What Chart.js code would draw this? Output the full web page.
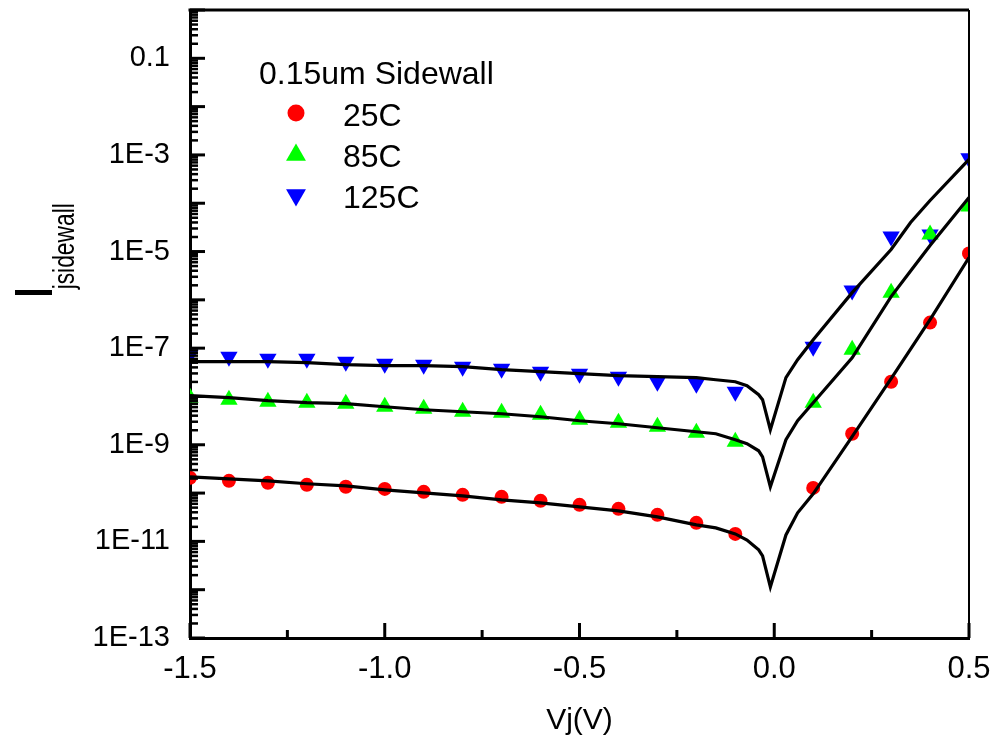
<!DOCTYPE html>
<html>
<head>
<meta charset="utf-8">
<script src="https://cdn.jsdelivr.net/npm/chart.js@4.4.0/dist/chart.umd.min.js"></script>
<style>
  html, body { margin: 0; padding: 0; background: #fff; }
</style>
</head>
<body>
<canvas id="grafico" width="991" height="744"></canvas>
<script>
// Tensões dos pontos medidos (V)
const vMedidos = [-1.5, -1.4, -1.3, -1.2, -1.1, -1.0, -0.9, -0.8, -0.7, -0.6, -0.5, -0.4, -0.3, -0.2, -0.1,
                  0.1, 0.2, 0.3, 0.4, 0.5];
const medido25 = [2.07e-10, 1.79e-10, 1.63e-10, 1.48e-10, 1.35e-10, 1.22e-10, 1.06e-10, 9.2e-11, 8.36e-11, 6.9e-11,
                  5.7e-11, 4.72e-11, 3.54e-11, 2.42e-11, 1.43e-11,
                  1.28e-10, 1.69e-9, 2.02e-8, 3.38e-7, 9.1e-6];
const medido85 = [9.4e-9, 8.57e-9, 7.79e-9, 7.42e-9, 7.08e-9, 6.13e-9, 5.57e-9, 4.83e-9, 4.6e-9, 4.19e-9,
                  3.3e-9, 2.86e-9, 2.36e-9, 1.77e-9, 1.15e-9,
                  7.42e-9, 9.3e-8, 1.41e-6, 2.25e-5, 8.6e-5];
const medido125 = [7.33e-8, 6.67e-8, 6.06e-8, 6.06e-8, 5.25e-8, 4.77e-8, 4.55e-8, 4.14e-8, 3.76e-8, 3.26e-8,
                   2.96e-8, 2.57e-8, 2.02e-8, 1.84e-8, 1.25e-8,
                   1.07e-7, 1.56e-6, 2.05e-5, 2.25e-5, 8.5e-4];

// Curvas do modelo (linhas pretas)
const vModelo = [-1.5, -1.4, -1.3, -1.2, -1.1, -1.0, -0.9, -0.8, -0.7, -0.6, -0.5, -0.4, -0.3, -0.2, -0.15,
                 -0.1, -0.07, -0.04, -0.03, -0.01, 0.03, 0.06, 0.1, 0.2, 0.3, 0.35, 0.4, 0.5];
const modelo25 = [2.17e-10, 1.97e-10, 1.79e-10, 1.56e-10, 1.41e-10, 1.17e-10, 1.01e-10, 8.77e-11, 7.24e-11, 6.28e-11,
                  5.19e-11, 4.29e-11, 3.22e-11, 2.2e-11, 1.9e-11, 1.43e-11, 1.07e-11, 6.67e-12, 5.0e-12, 1.14e-12,
                  1.36e-11, 3.9e-11, 9.64e-11, 1.47e-9, 2.33e-8, 9.5e-8, 3.9e-7, 7.5e-6];
const modelo85 = [1.04e-8, 9.42e-9, 8.17e-9, 7.42e-9, 7.08e-9, 6.13e-9, 5.31e-9, 4.83e-9, 4.39e-9, 3.8e-9,
                  3.14e-9, 2.72e-9, 2.25e-9, 1.86e-9, 1.69e-9, 1.27e-9, 1.05e-9, 7.5e-10, 5.64e-10, 1.35e-10,
                  1.27e-9, 3.14e-9, 7.42e-9, 6.3e-8, 1.17e-6, 3.94e-6, 1.33e-5, 1.32e-4];
const modelo125 = [5.25e-8, 5.25e-8, 5.25e-8, 5.0e-8, 4.55e-8, 4.34e-8, 4.34e-8, 4.14e-8, 3.58e-8, 3.26e-8,
                   2.96e-8, 2.69e-8, 2.57e-8, 2.45e-8, 2.22e-8, 2.02e-8, 1.67e-8, 1.09e-8, 8.57e-9, 2.05e-9,
                   2.45e-8, 5.78e-8, 1.5e-7, 1.41e-6, 1.1e-5, 4.0e-5, 1.14e-4, 8.1e-4];

const rotulos = ['25C', '85C', '125C'];
const tituloLegenda = '0.15um Sidewall';

const FONTE = '"Liberation Sans", Arial, sans-serif';

function pares(xs, ys) {
    return xs.map((x, i) => ({ x: x, y: ys[i] }));
}

function linhaModelo(ys) {
    return {
        data: pares(vModelo, ys),
        showLine: true,
        borderColor: '#000',
        borderWidth: 3.2,
        pointRadius: 0,
        tension: 0,
        clip: 0,
        legenda: false
    };
}

function pontos(label, ys, cor, estilo, raio, rot) {
    return {
        label: label,
        data: pares(vMedidos, ys),
        showLine: false,
        pointStyle: estilo,
        pointRotation: rot,
        pointRadius: raio,
        pointBackgroundColor: cor,
        pointBorderColor: cor,
        pointBorderWidth: 0,
        clip: 0,
        legenda: true,
        raioLegenda: estilo === 'circle' ? 8.5 : 11.5
    };
}

// Legenda desenhada dentro da área do gráfico
const legendaInterna = {
    id: 'legendaInterna',
    afterDraw(chart) {
        const ctx = chart.ctx;
        ctx.save();
        ctx.fillStyle = '#000';
        ctx.font = '32px ' + FONTE;
        ctx.textBaseline = 'alphabetic';
        ctx.fillText(tituloLegenda, 259, 84);
        const ysMarcador = [113, 155, 195];
        const ysTexto = [126, 167, 208];
        let k = 0;
        chart.data.datasets.forEach((ds) => {
            if (!ds.legenda) return;
            ctx.fillStyle = ds.pointBackgroundColor;
            Chart.helpers.drawPoint(ctx, {
                pointStyle: ds.pointStyle,
                rotation: ds.pointRotation,
                radius: ds.raioLegenda,
                borderWidth: 0
            }, 296, ysMarcador[k]);
            ctx.fillStyle = '#000';
            ctx.fillText(ds.label, 343, ysTexto[k]);
            k++;
        });
        ctx.restore();
    }
};

// Marcas internas dos eixos + moldura superior/direita + título do eixo Y
const eixos = {
    id: 'eixos',
    afterDraw(chart) {
        const { ctx, chartArea: a, scales: { x, y } } = chart;
        ctx.save();
        ctx.strokeStyle = '#000';
        ctx.lineWidth = 3;
        for (let i = 0; i <= 8; i++) {
            const px = x.getPixelForValue(-1.5 + i * 0.25);
            const len = i % 2 === 0 ? 15 : 8;
            ctx.beginPath();
            ctx.moveTo(px, a.bottom);
            ctx.lineTo(px, a.bottom - len);
            ctx.stroke();
        }
        for (let e = -13; e <= 0; e++) {
            const py = y.getPixelForValue(Math.pow(10, e));
            ctx.lineWidth = 3;
            ctx.beginPath();
            ctx.moveTo(a.left, py);
            ctx.lineTo(a.left + 15, py);
            ctx.stroke();
            if (e === 0) break;
            ctx.lineWidth = 2.5;
            for (let m = 2; m <= 9; m++) {
                const pm = y.getPixelForValue(m * Math.pow(10, e));
                ctx.beginPath();
                ctx.moveTo(a.left, pm);
                ctx.lineTo(a.left + 8, pm);
                ctx.stroke();
            }
        }
        // moldura
        ctx.lineWidth = 3;
        ctx.beginPath();
        ctx.moveTo(a.left - 1.5, a.top);
        ctx.lineTo(a.right, a.top);
        ctx.stroke();
        ctx.lineWidth = 2;
        ctx.beginPath();
        ctx.moveTo(a.right, a.top);
        ctx.lineTo(a.right, a.bottom);
        ctx.stroke();

        // título Y: I com subscrito
        ctx.fillStyle = '#000';
        ctx.translate(52, 300);
        ctx.rotate(-Math.PI / 2);
        ctx.font = '54px ' + FONTE;
        ctx.textBaseline = 'alphabetic';
        ctx.fillText('I', 0, 0);
        ctx.font = '30px ' + FONTE;
        ctx.scale(0.76, 1);
        ctx.fillText('jsidewall', 14, 22);
        ctx.restore();
    }
};

const ctx = document.getElementById('grafico').getContext('2d');
new Chart(ctx, {
    type: 'scatter',
    data: {
        datasets: [
            linhaModelo(modelo25),
            linhaModelo(modelo85),
            linhaModelo(modelo125),
            pontos(rotulos[0], medido25, '#ff0000', 'circle', 7, 0),
            pontos(rotulos[1], medido85, '#00ff00', 'triangle', 10, 0),
            pontos(rotulos[2], medido125, '#0000ff', 'triangle', 10, 180)
        ]
    },
    options: {
        responsive: false,
        animation: false,
        layout: { padding: { top: 8, right: 22, left: 0, bottom: 0 } },
        plugins: {
            legend: { display: false },
            tooltip: { enabled: false }
        },
        scales: {
            x: {
                type: 'linear',
                min: -1.5,
                max: 0.5,
                grid: { display: false, drawTicks: false },
                border: { display: true, color: '#000', width: 3 },
                ticks: {
                    stepSize: 0.5,
                    color: '#000',
                    padding: 13,
                    maxRotation: 0,
                    font: { family: FONTE, size: 31 },
                    callback: (v) => v.toFixed(1)
                },
                title: {
                    display: true,
                    text: 'Vj(V)',
                    color: '#000',
                    font: { family: FONTE, size: 30 },
                    padding: { top: 0, bottom: 5 }
                },
                afterFit(s) {
                    s.height = 106;
                    s.paddingLeft = 0;
                    s.paddingRight = 0;
                }
            },
            y: {
                type: 'logarithmic',
                min: 1e-13,
                max: 1,
                grid: { display: false, drawTicks: false },
                border: { display: true, color: '#000', width: 3 },
                ticks: {
                    autoSkip: false,
                    color: '#000',
                    padding: 20,
                    font: { family: FONTE, size: 29 },
                    callback: function (v) {
                        const e = Math.round(Math.log10(v));
                        if (e % 2 === 0) return '';
                        return e === -1 ? '0.1' : '1E' + e;
                    }
                },
                afterBuildTicks(s) {
                    const t = [];
                    for (let e = -13; e <= 0; e++) t.push({ value: Math.pow(10, e) });
                    s.ticks = t;
                },
                afterFit(s) {
                    s.width = 190;
                    s.paddingTop = 0;
                    s.paddingBottom = 0;
                }
            }
        }
    },
    plugins: [legendaInterna, eixos]
});
</script>
</body>
</html>
